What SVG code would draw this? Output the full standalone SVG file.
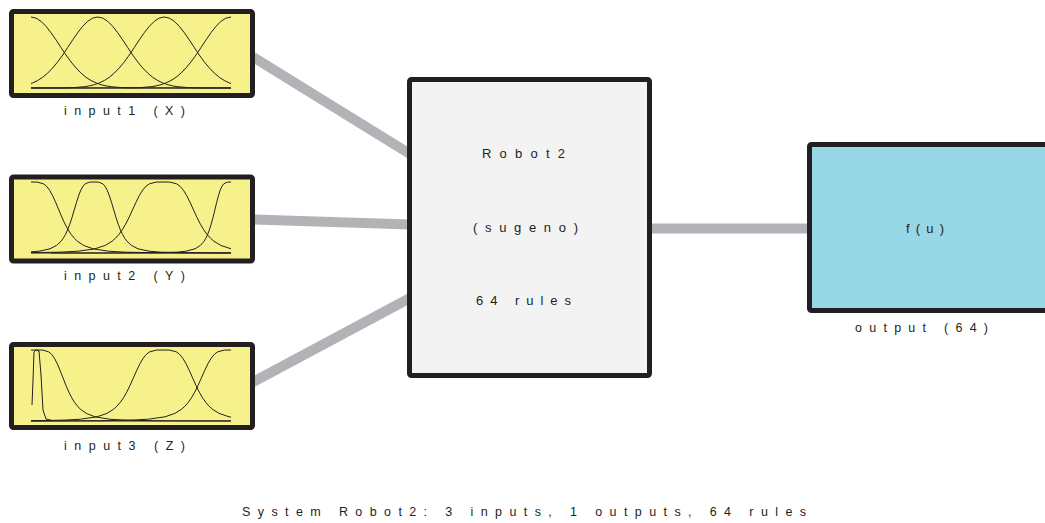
<svg xmlns="http://www.w3.org/2000/svg" xmlns:xlink="http://www.w3.org/1999/xlink" width="1045" height="523" viewBox="0 0 1045 523">
<style>
.box{stroke:#231f20;stroke-width:5}
.in{fill:#f6f18a}
.conn{stroke:#b3b3b7;stroke-width:10;fill:none}
.mf{fill:none;stroke:#231f20;stroke-width:1;stroke-linejoin:round}
.bl{stroke:#231f20;stroke-width:1}
text{font-family:"Liberation Sans",Arial,sans-serif;fill:#231f20}
.lbl{font-size:12.5px}
.mid{font-size:13px}
</style>
<defs>
<clipPath id="plot"><rect x="31" y="0" width="200" height="523"/></clipPath>
<path id="gauss" class="mf" d="M-200,0 L-100,-0.1 -90,-0.45 -80,-1.3 -75,-2.1 -70,-3.3 -65,-5.1 -60,-7.5 -55,-10.7 -50,-14.9 -45,-20.1 -40,-26.1 -35,-33 -30,-40.5 -25,-48.1 -20,-55.3 -15,-61.7 -10,-66.7 -5,-69.9 0,-71 5,-69.9 10,-66.7 15,-61.7 20,-55.3 25,-48.1 30,-40.5 35,-33 40,-26.1 45,-20.1 50,-14.9 55,-10.7 60,-7.5 65,-5.1 70,-3.3 75,-2.1 80,-1.3 90,-0.45 100,-0.1 200,0"/>
</defs>
<g id="connectors">
<line class="conn" x1="253" y1="57" x2="410" y2="154"/>
<line class="conn" x1="253" y1="219.5" x2="410" y2="224.5"/>
<line class="conn" x1="253" y1="382" x2="410" y2="298"/>
<line class="conn" x1="650" y1="228.5" x2="810" y2="228.5"/>
</g>
<g id="input1">
<rect class="box in" x="11.5" y="11.5" width="241" height="84" rx="2"/>
<g clip-path="url(#plot)">
<use href="#gauss" x="31" y="88"/>
<use href="#gauss" x="97.7" y="88"/>
<use href="#gauss" x="164.3" y="88"/>
<use href="#gauss" x="231" y="88"/>
</g>
<line class="bl" x1="31" y1="88" x2="231" y2="88"/>
<text class="lbl" x="64" y="115" textLength="121" lengthAdjust="spacing">input1 (X)</text>
</g>
<g id="input2">
<rect class="box in" x="11.5" y="177" width="241" height="84" rx="2"/>
<g clip-path="url(#plot)">
<path class="mf" vector-effect="non-scaling-stroke" transform="translate(31,253) scale(31,1)" d="M-10,0 L-6,-0.05 -4,-0.28 -3,-0.87 -2.5,-1.8 -2,-4.2 -1.7,-7.6 -1.5,-11.7 -1.4,-14.7 -1.3,-18.4 -1.2,-23.1 -1.1,-28.8 -1,-35.5 -0.9,-42.9 -0.8,-50.3 -0.7,-57.2 -0.6,-62.8 -0.5,-66.8 -0.4,-69.2 -0.2,-70.9 0,-71 0.2,-70.9 0.4,-69.2 0.5,-66.8 0.6,-62.8 0.7,-57.2 0.8,-50.3 0.9,-42.9 1,-35.5 1.1,-28.8 1.2,-23.1 1.3,-18.4 1.4,-14.7 1.5,-11.7 1.7,-7.6 2,-4.2 2.5,-1.8 3,-0.87 4,-0.28 6,-0.05 10,0"/>
<path class="mf" vector-effect="non-scaling-stroke" transform="translate(94,253) scale(22,1)" d="M-10,0 L-6,-0.05 -4,-0.28 -3,-0.87 -2.5,-1.8 -2,-4.2 -1.7,-7.6 -1.5,-11.7 -1.4,-14.7 -1.3,-18.4 -1.2,-23.1 -1.1,-28.8 -1,-35.5 -0.9,-42.9 -0.8,-50.3 -0.7,-57.2 -0.6,-62.8 -0.5,-66.8 -0.4,-69.2 -0.2,-70.9 0,-71 0.2,-70.9 0.4,-69.2 0.5,-66.8 0.6,-62.8 0.7,-57.2 0.8,-50.3 0.9,-42.9 1,-35.5 1.1,-28.8 1.2,-23.1 1.3,-18.4 1.4,-14.7 1.5,-11.7 1.7,-7.6 2,-4.2 2.5,-1.8 3,-0.87 4,-0.28 6,-0.05 10,0"/>
<path class="mf" vector-effect="non-scaling-stroke" transform="translate(163,253) scale(34,1)" d="M-10,0 L-6,-0.05 -4,-0.28 -3,-0.87 -2.5,-1.8 -2,-4.2 -1.7,-7.6 -1.5,-11.7 -1.4,-14.7 -1.3,-18.4 -1.2,-23.1 -1.1,-28.8 -1,-35.5 -0.9,-42.9 -0.8,-50.3 -0.7,-57.2 -0.6,-62.8 -0.5,-66.8 -0.4,-69.2 -0.2,-70.9 0,-71 0.2,-70.9 0.4,-69.2 0.5,-66.8 0.6,-62.8 0.7,-57.2 0.8,-50.3 0.9,-42.9 1,-35.5 1.1,-28.8 1.2,-23.1 1.3,-18.4 1.4,-14.7 1.5,-11.7 1.7,-7.6 2,-4.2 2.5,-1.8 3,-0.87 4,-0.28 6,-0.05 10,0"/>
<path class="mf" vector-effect="non-scaling-stroke" transform="translate(231,253) scale(18,1)" d="M-10,0 L-6,-0.05 -4,-0.28 -3,-0.87 -2.5,-1.8 -2,-4.2 -1.7,-7.6 -1.5,-11.7 -1.4,-14.7 -1.3,-18.4 -1.2,-23.1 -1.1,-28.8 -1,-35.5 -0.9,-42.9 -0.8,-50.3 -0.7,-57.2 -0.6,-62.8 -0.5,-66.8 -0.4,-69.2 -0.2,-70.9 0,-71 0.2,-70.9 0.4,-69.2 0.5,-66.8 0.6,-62.8 0.7,-57.2 0.8,-50.3 0.9,-42.9 1,-35.5 1.1,-28.8 1.2,-23.1 1.3,-18.4 1.4,-14.7 1.5,-11.7 1.7,-7.6 2,-4.2 2.5,-1.8 3,-0.87 4,-0.28 6,-0.05 10,0"/>
</g>
<line class="bl" x1="31" y1="253" x2="231" y2="253"/>
<text class="lbl" x="64" y="280" textLength="121" lengthAdjust="spacing">input2 (Y)</text>
</g>
<g id="input3">
<rect class="box in" x="11.5" y="344.5" width="241" height="83" rx="2"/>
<g clip-path="url(#plot)">
<polyline class="mf" points="32,405 33,380 34,352 36,350 39,351 41,375 43,410 46,419 52,420.5"/>
<path class="mf" vector-effect="non-scaling-stroke" transform="translate(37,421) scale(29,1)" d="M-10,0 L-6,-0.05 -4,-0.28 -3,-0.87 -2.5,-1.8 -2,-4.2 -1.7,-7.6 -1.5,-11.7 -1.4,-14.7 -1.3,-18.4 -1.2,-23.1 -1.1,-28.8 -1,-35.5 -0.9,-42.9 -0.8,-50.3 -0.7,-57.2 -0.6,-62.8 -0.5,-66.8 -0.4,-69.2 -0.2,-70.9 0,-71 0.2,-70.9 0.4,-69.2 0.5,-66.8 0.6,-62.8 0.7,-57.2 0.8,-50.3 0.9,-42.9 1,-35.5 1.1,-28.8 1.2,-23.1 1.3,-18.4 1.4,-14.7 1.5,-11.7 1.7,-7.6 2,-4.2 2.5,-1.8 3,-0.87 4,-0.28 6,-0.05 10,0"/>
<path class="mf" vector-effect="non-scaling-stroke" transform="translate(163,421) scale(33,1)" d="M-10,0 L-6,-0.05 -4,-0.28 -3,-0.87 -2.5,-1.8 -2,-4.2 -1.7,-7.6 -1.5,-11.7 -1.4,-14.7 -1.3,-18.4 -1.2,-23.1 -1.1,-28.8 -1,-35.5 -0.9,-42.9 -0.8,-50.3 -0.7,-57.2 -0.6,-62.8 -0.5,-66.8 -0.4,-69.2 -0.2,-70.9 0,-71 0.2,-70.9 0.4,-69.2 0.5,-66.8 0.6,-62.8 0.7,-57.2 0.8,-50.3 0.9,-42.9 1,-35.5 1.1,-28.8 1.2,-23.1 1.3,-18.4 1.4,-14.7 1.5,-11.7 1.7,-7.6 2,-4.2 2.5,-1.8 3,-0.87 4,-0.28 6,-0.05 10,0"/>
<path class="mf" vector-effect="non-scaling-stroke" transform="translate(231,421) scale(33,1)" d="M-10,0 L-6,-0.05 -4,-0.28 -3,-0.87 -2.5,-1.8 -2,-4.2 -1.7,-7.6 -1.5,-11.7 -1.4,-14.7 -1.3,-18.4 -1.2,-23.1 -1.1,-28.8 -1,-35.5 -0.9,-42.9 -0.8,-50.3 -0.7,-57.2 -0.6,-62.8 -0.5,-66.8 -0.4,-69.2 -0.2,-70.9 0,-71 0.2,-70.9 0.4,-69.2 0.5,-66.8 0.6,-62.8 0.7,-57.2 0.8,-50.3 0.9,-42.9 1,-35.5 1.1,-28.8 1.2,-23.1 1.3,-18.4 1.4,-14.7 1.5,-11.7 1.7,-7.6 2,-4.2 2.5,-1.8 3,-0.87 4,-0.28 6,-0.05 10,0"/>
</g>
<line class="bl" x1="31" y1="421" x2="231" y2="421"/>
<text class="lbl" x="64" y="450" textLength="121" lengthAdjust="spacing">input3 (Z)</text>
</g>
<g id="robot2">
<rect class="box" fill="#f2f3f2" x="409.5" y="79.5" width="240" height="296" rx="2"/>
<text class="mid" x="482" y="158" textLength="83" lengthAdjust="spacing">Robot2</text>
<text class="mid" x="473" y="232" textLength="105" lengthAdjust="spacing">(sugeno)</text>
<text class="mid" x="476" y="305" textLength="95" lengthAdjust="spacing">64 rules</text>
</g>
<g id="output">
<rect class="box" fill="#98d7e5" x="809.5" y="144.5" width="242" height="166" rx="2"/>
<text class="mid" x="906" y="233" textLength="38" lengthAdjust="spacing">f(u)</text>
<text class="lbl" x="855" y="332" textLength="133" lengthAdjust="spacing">output (64)</text>
</g>
<g id="footer">
<text class="lbl" x="242" y="516" textLength="564" lengthAdjust="spacing">System Robot2: 3 inputs, 1 outputs, 64 rules</text>
</g>
</svg>
